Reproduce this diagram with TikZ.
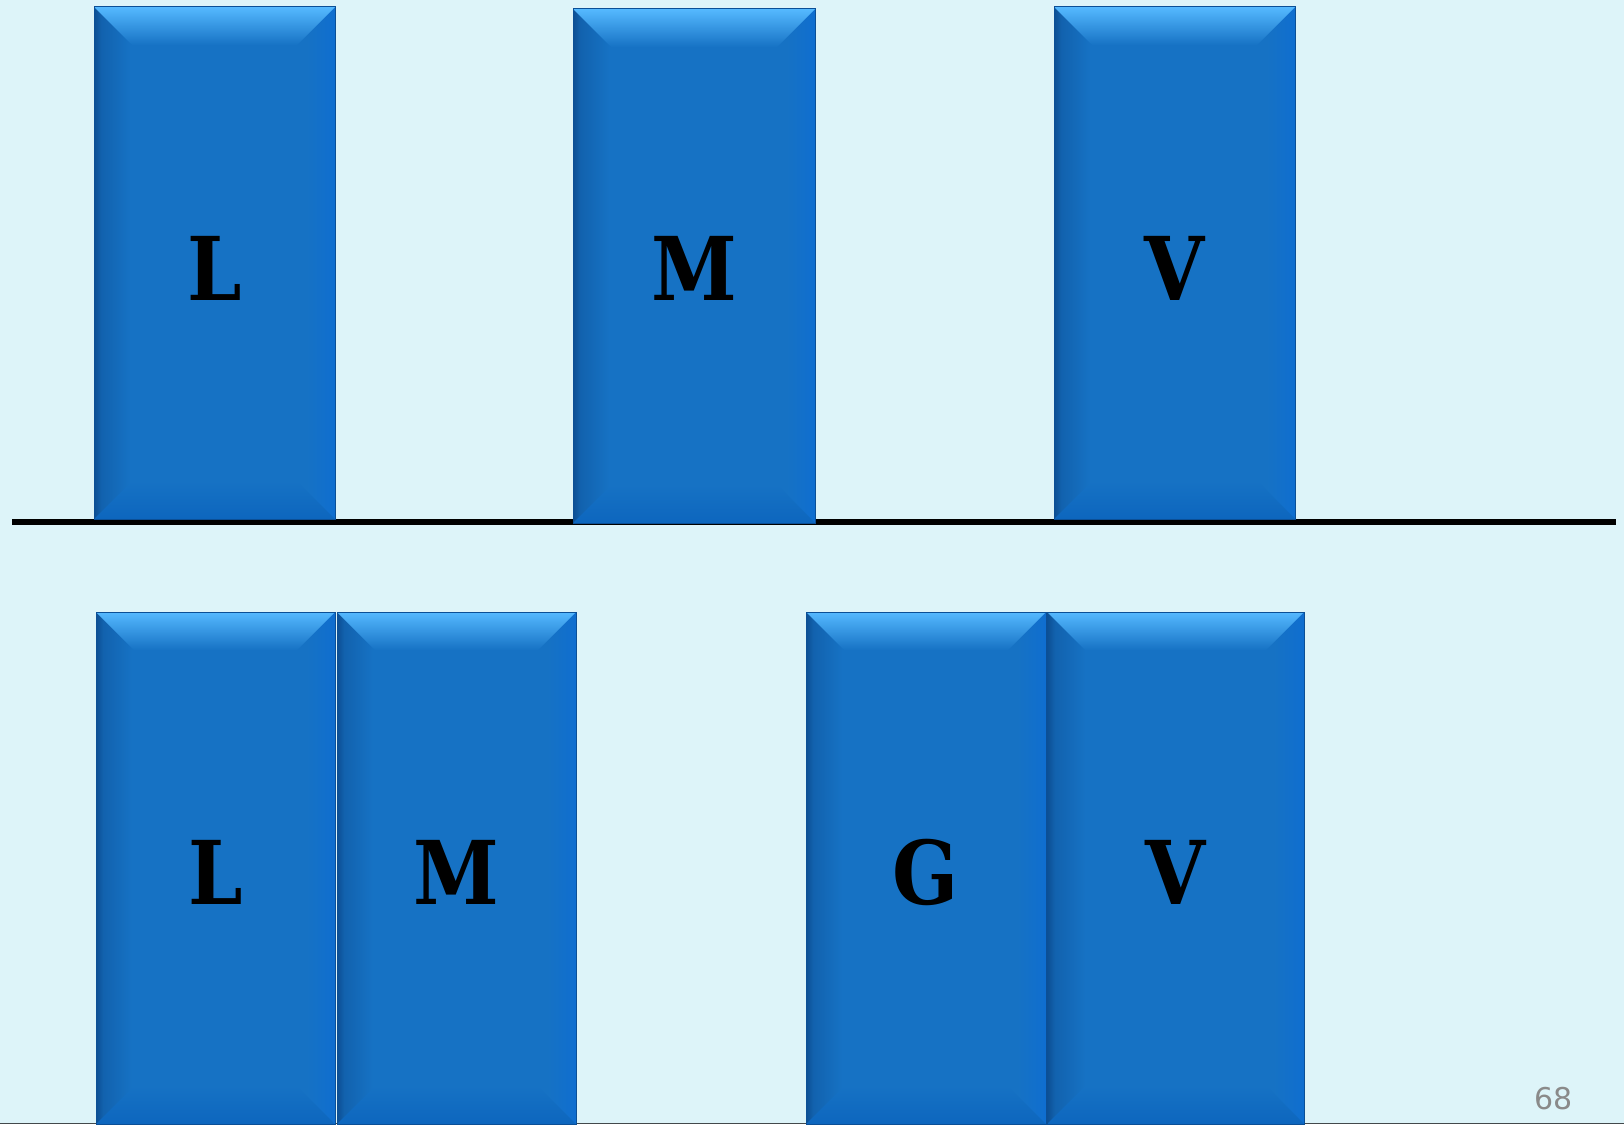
\documentclass[tikz,border=0pt]{standalone}
\usepackage{fontspec}
\newfontfamily\slabfont[FakeStretch=0.88]{DejaVu Serif}
\newfontfamily\numfont{DejaVu Sans}
\definecolor{paper}{HTML}{DDF4F9}
\definecolor{face}{HTML}{1672C4}
\definecolor{edgeblue}{HTML}{0B4F96}
\definecolor{bevtop}{HTML}{55B9FF}
\definecolor{bevtopmid}{HTML}{2C8ADF}
\definecolor{bevleft}{HTML}{0C4E92}
\definecolor{bevleftmid}{HTML}{1262AE}
\definecolor{bevright}{HTML}{0F6ED0}
\definecolor{bevbottom}{HTML}{0D66BE}
\definecolor{pagenum}{HTML}{8A8A8A}
% face of a box: dark along the left side, a little brighter along the right
% (the shaded path spans 25bp..75bp of the shading)
\pgfdeclarehorizontalshading{boxface}{100bp}{color(0bp)=(bevleft); color(25bp)=(bevleft);
  color(26.5bp)=(bevleftmid); color(32.5bp)=(face); color(69bp)=(face);
  color(75bp)=(bevright); color(100bp)=(bevright)}
\tikzset{
  bevelbox/.style={rectangle, inner sep=0pt, fill=face, draw=edgeblue, line width=1pt,
    path picture={
      \shade[shading=boxface]
        (path picture bounding box.south west) rectangle (path picture bounding box.north east);
      % top bevel, the brightest
      \shade[top color=bevtop, middle color=bevtopmid, bottom color=face]
        (path picture bounding box.north west)
        -- (path picture bounding box.north east)
        -- ([xshift=-38pt,yshift=-38pt]path picture bounding box.north east)
        -- ([xshift=38pt,yshift=-38pt]path picture bounding box.north west) -- cycle;
      % bottom bevel
      \shade[top color=face, bottom color=bevbottom]
        (path picture bounding box.south west)
        -- (path picture bounding box.south east)
        -- ([xshift=-38pt,yshift=38pt]path picture bounding box.south east)
        -- ([xshift=38pt,yshift=38pt]path picture bounding box.south west) -- cycle;
    }},
  letter/.style={inner sep=0pt, text=black, font=\slabfont\bfseries\fontsize{88}{88}\selectfont},
  baseline rule/.style={line width=6pt, black}
}
\begin{document}
\begin{tikzpicture}[x=1pt, y=-1pt]
  \fill[paper] (0,0) rectangle (1624,1124);
  \useasboundingbox (0,0) rectangle (1624,1124);
  \draw[line width=1.5pt, color=black!70!paper] (0,1123.25) -- (1624,1123.25);

  % the rule under the first row
  \coordinate (ruleL) at (12,522);
  \coordinate (ruleR) at (1616,522);
  \draw[baseline rule] (ruleL) -- (ruleR);

  % first row
  \node[bevelbox, minimum width=241pt, minimum height=512pt] (topL) at (214.5,263) {};
  \node[bevelbox, minimum width=242pt, minimum height=514pt] (topM) at (694,266) {};
  \node[bevelbox, minimum width=241pt, minimum height=512pt] (topV) at (1174.5,263) {};
  \node[letter] (txtTL) at (214.5,268) {L};
  \node[letter] (txtTM) at (694,268) {M};
  \node[letter] (txtTV) at (1174.5,268) {V};

  % second row
  \node[bevelbox, minimum width=239pt, minimum height=512pt] (botL) at (215.5,868) {};
  \node[bevelbox, minimum width=239pt, minimum height=512pt] (botM) at (456.5,868) {};
  \node[bevelbox, minimum width=240pt, minimum height=512pt] (botG) at (926,868) {};
  \node[bevelbox, minimum width=257pt, minimum height=512pt] (botV) at (1175.5,868) {};
  \node[letter] (txtBL) at (215.5,872) {L};
  \node[letter] (txtBM) at (456.5,872) {M};
  \node[letter] (txtBG) at (926,872) {G};
  \node[letter] (txtBV) at (1175.5,872) {V};

  % slide number
  \node[inner sep=0pt, text=pagenum, font=\numfont\fontsize{30}{30}\selectfont] (pageno) at (1553.5,1099) {68};
\end{tikzpicture}
\end{document}
